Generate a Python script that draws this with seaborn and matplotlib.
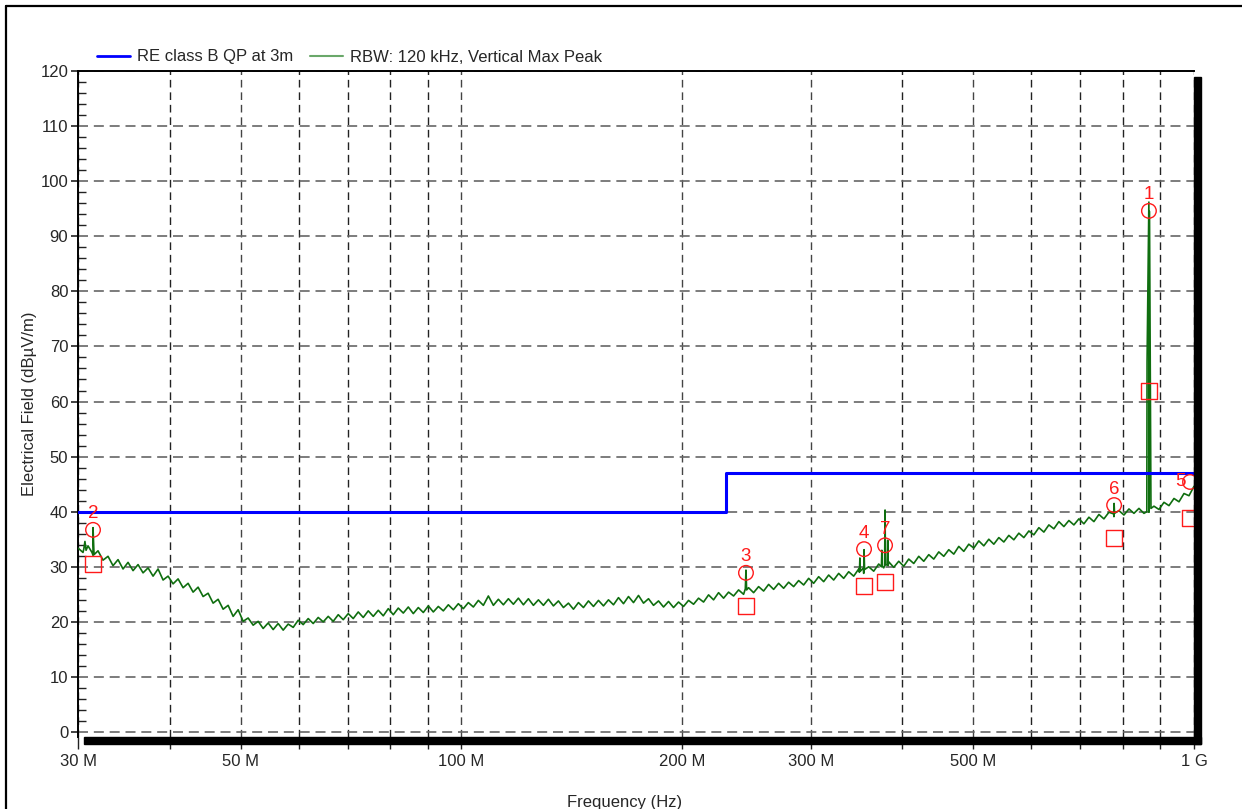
import numpy as np
import pandas as pd
import matplotlib
matplotlib.use("Agg")
import matplotlib.pyplot as plt
import seaborn as sns
from matplotlib.ticker import FixedLocator, FixedFormatter, MultipleLocator, NullFormatter
from matplotlib.patches import Rectangle
from matplotlib.lines import Line2D

# ---------------- data ----------------
# measured max-peak trace (dBuV/m), sampled on a log-spaced sweep from 30 MHz to 1 GHz
trace_level = [
    33.4, 32.6, 33.8, 32.1, 32.9, 31.2, 31.9, 30.2, 31.3, 29.6, 30.8, 29.3, 30.4, 28.9, 29.8, 28.3, 29.6, 27.6, 28.3, 26.9,
    27.8, 26.2, 27.0, 25.4, 26.3, 24.6, 25.2, 23.4, 24.1, 22.3, 23.0, 21.0, 22.2, 20.1, 20.7, 19.4, 20.1, 18.8, 19.8, 18.6,
    19.7, 18.5, 19.6, 19.0, 20.3, 19.5, 20.6, 19.7, 20.8, 20.0, 21.0, 20.1, 21.3, 20.4, 21.5, 20.6, 21.8, 20.8, 22.0, 21.0,
    22.1, 21.1, 22.4, 21.3, 22.5, 21.6, 22.7, 21.5, 22.6, 21.7, 22.9, 21.8, 22.8, 22.0, 23.1, 22.2, 23.3, 22.4, 23.5, 22.7,
    23.9, 23.0, 24.7, 23.0, 24.1, 23.1, 24.2, 23.2, 24.3, 23.1, 24.2, 23.0, 24.0, 23.0, 24.1, 22.9, 23.8, 22.6, 23.4, 22.3,
    23.5, 22.6, 23.8, 22.8, 23.9, 22.9, 24.0, 23.1, 24.4, 23.3, 24.6, 23.5, 24.8, 23.4, 24.2, 23.0, 23.8, 22.7, 23.7, 22.6,
    23.6, 22.8, 23.9, 23.2, 24.3, 23.6, 24.9, 24.0, 25.3, 24.3, 25.4, 24.7, 25.8, 25.0, 26.2, 25.3, 26.4, 25.6, 26.8, 25.9,
    27.0, 26.1, 27.2, 26.4, 27.5, 26.7, 27.9, 27.0, 28.2, 27.3, 28.5, 27.6, 28.8, 27.9, 29.1, 28.3, 29.6, 28.8, 30.0, 29.2,
    30.5, 29.8, 30.9, 29.9, 31.0, 30.1, 31.4, 30.6, 31.9, 31.0, 32.2, 31.4, 32.7, 31.9, 33.1, 32.3, 33.7, 32.8, 34.1, 33.4,
    34.7, 33.8, 35.0, 34.1, 35.3, 34.5, 35.7, 34.9, 36.1, 35.3, 36.5, 35.8, 37.1, 36.3, 37.6, 36.9, 38.2, 37.3, 38.4, 37.6,
    38.7, 37.8, 39.0, 38.2, 39.5, 38.7, 39.9, 39.1, 40.2, 39.4, 40.5, 39.7, 40.6, 39.7, 39.9, 41.0, 40.4, 41.7, 41.1, 42.4,
    41.8, 43.3, 42.9, 44.6,
]
trace_freq = np.geomspace(30, 1000, len(trace_level))  # MHz

# narrow emissions (MHz, dBuV/m)
spike_freq = [30.55, 30.66, 30.77, 31.35, 31.45, 31.55, 244.2, 244.7, 245.2,
              349.5, 350.0, 350.5, 354.0, 354.6, 355.2, 374.5, 375.0, 375.5,
              378.3, 378.8, 379.3, 381.5, 382.0, 382.5, 777.0, 778.0, 779.0,
              862.2, 862.9, 867.8, 869.5, 873.5]
spike_level = [33.2, 34.6, 33.0, 32.6, 37.1, 32.2, 26.0, 29.4, 25.8,
               29.0, 31.6, 29.2, 29.8, 33.1, 29.5, 30.0, 33.0, 30.1,
               30.2, 40.3, 30.4, 30.3, 34.8, 30.2, 39.6, 41.5, 39.7,
               40.0, 67.2, 96.2, 94.5, 40.6]

# limit line: RE class B QP at 3 m
limit_freq = [30, 230, 230, 1000]
limit_level = [40, 40, 47, 47]

# marker table
marker_id = ["1", "2", "3", "4", "5", "6", "7"]
marker_freq = [868.0, 31.45, 244.7, 354.6, 987.6, 778.0, 378.8]
peak_level = [94.6, 36.7, 28.9, 33.2, 45.4, 41.2, 33.9]
qp_level = [61.9, 30.5, 22.9, 26.5, 38.9, 35.2, 27.2]

x_major = [30, 50, 100, 200, 300, 500, 1000]
x_major_labels = ["30 M", "50 M", "100 M", "200 M", "300 M", "500 M", "1 G"]
x_minor = [40, 60, 70, 80, 90, 400, 600, 700, 800, 900]

# ---------------- style ----------------
sns.set_theme(style="white")
plt.rcParams["font.family"] = ["Liberation Sans", "DejaVu Sans"]
FS = 12

W, H = 1242, 809
fig = plt.figure(figsize=(W / 100, H / 100), dpi=100)
ax = fig.add_axes([78 / W, 1 - 737 / H, 1116 / W, 666 / H])

trace = pd.DataFrame({
    "freq": np.concatenate([trace_freq, spike_freq]),
    "level": np.concatenate([trace_level, spike_level]),
}).sort_values("freq")

trace_color = "#0f6e0f"
sns.lineplot(data=trace, x="freq", y="level", sort=False, estimator=None,
             color=trace_color, lw=1.2, ax=ax, zorder=3)
sns.lineplot(x=limit_freq, y=limit_level, sort=False, estimator=None,
             color="#0000ff", lw=2.2, ax=ax, zorder=4)

sns.scatterplot(x=marker_freq, y=peak_level, marker="o", s=110, fc="none",
                ec="#ff1a1a", linewidth=1.0, ax=ax, zorder=6)
sns.scatterplot(x=marker_freq, y=qp_level, marker="s", s=125, fc="none",
                ec="#ff1a1a", linewidth=1.0, ax=ax, zorder=6)
for mid, f, lv in zip(marker_id, marker_freq, peak_level):
    off = (-7, 0) if mid == "5" else (0, 11.5)
    ax.annotate(mid, (f, lv), xytext=off, textcoords="offset points",
                ha="center", va="center", color="#ff1a1a", fontsize=13.5, zorder=7)

ax.set_xscale("log")
ax.set_xlim(30, 1000)
ax.set_ylim(-0.9, 120)

ax.xaxis.set_major_locator(FixedLocator(x_major))
ax.xaxis.set_major_formatter(FixedFormatter(x_major_labels))
ax.xaxis.set_minor_locator(FixedLocator(x_minor))
ax.xaxis.set_minor_formatter(NullFormatter())
ax.yaxis.set_major_locator(MultipleLocator(10))
ax.yaxis.set_minor_locator(MultipleLocator(2))

ax.grid(True, which="minor", axis="x", color="#222222", ls=(0, (5.5, 3.5)), lw=1.0)
ax.grid(True, which="major", axis="x", color="#444444", ls=(0, (5.5, 3.5)), lw=1.0)
ax.grid(True, which="major", axis="y", color="#666666", ls=(0, (6, 3.5)), lw=1.2)
ax.set_axisbelow(True)

ax.tick_params(axis="x", which="both", direction="out", length=8.6, width=1.0,
               color="#222222", labelsize=FS, pad=3.5, bottom=True)
ax.tick_params(axis="y", which="major", direction="out", length=5, width=1.2,
               color="#222222", labelsize=FS, pad=2, left=True)
ax.tick_params(axis="y", which="minor", direction="in", length=5.8, width=1.0,
               color="#222222", left=True)

for side in ["left", "top"]:
    ax.spines[side].set_color("black")
    ax.spines[side].set_linewidth(1.4)
ax.spines["right"].set_visible(False)
ax.spines["bottom"].set_visible(False)

ax.set_xlabel("Frequency (Hz)", fontsize=FS)
ax.set_ylabel("Electrical Field (dB\u00b5V/m)", fontsize=FS)
ax.xaxis.set_label_coords(0.49, -0.087)
ax.yaxis.set_label_coords(-0.037, 0.5)

# legend above the plot
handles = [Line2D([], [], color="#0000ff", lw=2.0),
           Line2D([], [], color="#6aa86a", lw=1.5)]
labels = ["RE class B QP at 3m", "RBW: 120 kHz, Vertical Max Peak"]
fig.legend(handles, labels, loc="center left", bbox_to_anchor=(97 / W, 1 - 57 / H),
           ncol=2, frameon=False, fontsize=FS, handlelength=2.0, handletextpad=0.4,
           columnspacing=1.0, borderpad=0, borderaxespad=0)

# drop shadow of the plot box
fig.add_artist(Rectangle((84 / W, 1 - 744 / H), (1201 - 84) / W, 7 / H,
                         transform=fig.transFigure, color="black", zorder=10))
fig.add_artist(Rectangle((1194 / W, 1 - 744 / H), 7 / W, (744 - 77) / H,
                         transform=fig.transFigure, color="black", zorder=10))

# outer frame of the figure
fig.add_artist(Line2D([6 / W, 6 / W], [0, 1 - 6 / H], transform=fig.transFigure,
                      color="black", lw=1.6))
fig.add_artist(Line2D([6 / W, 1], [1 - 6 / H, 1 - 6 / H], transform=fig.transFigure,
                      color="black", lw=1.6))

fig.savefig("out.png", dpi=100, facecolor="white")
